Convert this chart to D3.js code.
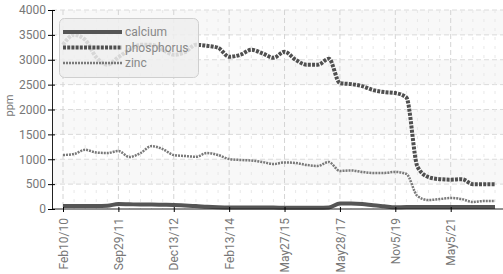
<!DOCTYPE html>
<html>
<head>
<meta charset="utf-8">
<script src="https://cdn.jsdelivr.net/npm/d3@7"></script>
<style>
  body { margin: 0; background: #fff; }
  text { font-family: Roboto, "Liberation Sans", sans-serif; }
</style>
</head>
<body>
<script>
// samples along x (categorical, irregular dates), labelled every 5th
var tickLabels = ["Feb10/10", "Sep29/11", "Dec13/12", "Feb13/14", "May27/15", "May28/17", "Nov5/19", "May5/21"];
var labelEvery = 5;

var calcium = [60, 60, 60, 60, 65, 100, 95, 90, 90, 85, 80, 70, 60, 45, 35, 30, 30, 30, 30, 30,
               25, 25, 25, 25, 30, 110, 110, 100, 75, 55, 35, 40, 40, 40, 40, 40, 40, 40, 40, 40];
var phosphorus = [3300, 3500, 3400, 3050, 2900, 3050, 3200, 3300, 3300, 3200, 3100, 3150, 3300, 3280, 3240, 3060, 3100, 3200, 3130, 3040,
                  3160, 3000, 2900, 2900, 3020, 2530, 2510, 2470, 2390, 2350, 2330, 2240, 850, 640, 600, 590, 600, 500, 500, 500];
var zinc = [1085, 1105, 1190, 1135, 1125, 1165, 1045, 1125, 1265, 1205, 1085, 1065, 1050, 1125, 1085, 1005, 985, 975, 945, 905,
            935, 925, 885, 865, 945, 765, 775, 745, 725, 725, 745, 705, 260, 180, 200, 220, 200, 140, 160, 160];

var seriesNames = ["calcium", "phosphorus", "zinc"];
var series = [calcium, phosphorus, zinc];
var styles = {
    calcium:    {color: "#555", width: 4,   dash: null},
    phosphorus: {color: "#505050", width: 4, dash: "3,1.2"},
    zinc:       {color: "#7a7a7a", width: 2.5, dash: "2,1"}
};

var width = 503, height = 274;
var margin = {top: 10, right: 0, bottom: 65, left: 52};

var svg = d3.select("body").append("svg")
    .attr("width", width)
    .attr("height", height);

var idx = d3.range(calcium.length);

var x = d3.scalePoint()
    .domain(idx)
    .range([63, 495]);

var y = d3.scaleLinear()
    .domain([0, 4000])
    .range([height - margin.bottom, margin.top]);

var yTicks = d3.range(0, 4001, 500);

// background bands
svg.append("g")
  .selectAll("rect").data(yTicks.slice(0, -1).filter((d, i) => i % 2 == 1)).enter().append("rect")
    .attr("x", margin.left)
    .attr("width", width - margin.left)
    .attr("y", d => y(d + 500))
    .attr("height", d => y(d) - y(d + 500))
    .attr("fill", "#f8f8f8");

// horizontal grid
svg.append("g")
  .selectAll("line").data(yTicks.slice(1)).enter().append("line")
    .attr("x1", margin.left).attr("x2", width)
    .attr("y1", d => y(d)).attr("y2", d => y(d))
    .attr("stroke", "#dadada")
    .attr("stroke-dasharray", "5,3");

// vertical grid, minor at every sample, major at labels
svg.append("g")
  .selectAll("line").data(idx).enter().append("line")
    .attr("x1", d => x(d)).attr("x2", d => x(d))
    .attr("y1", y(4000)).attr("y2", y(0))
    .attr("stroke", d => d % labelEvery == 0 ? "#d4d4d4" : "#e8e8e8")
    .attr("stroke-dasharray", d => d % labelEvery == 0 ? "5,3" : "3,6");

// lines
var line = d3.line()
    .x((d, i) => x(i))
    .y(d => y(d))
    .curve(d3.curveMonotoneX);

svg.append("g")
  .selectAll("path").data(seriesNames).enter().append("path")
    .attr("d", (d, i) => line(series[i]))
    .attr("fill", "none")
    .attr("stroke", d => styles[d].color)
    .attr("stroke-width", d => styles[d].width)
    .attr("stroke-dasharray", d => styles[d].dash);

// axes
var yAxis = g => g
    .attr("transform", `translate(${margin.left},0)`)
    .call(d3.axisLeft(y).tickValues(yTicks).tickFormat(d3.format("d")).tickSize(4).tickSizeOuter(0))
    .call(g => g.selectAll(".tick line").attr("x2", 3).attr("x1", -4))
    .call(g => g.selectAll(".tick text").attr("fill", "#777").attr("font-size", 12).attr("x", -6))
    .call(g => g.select(".domain").attr("stroke", "#222"));

var xAxis = g => g
    .attr("transform", `translate(0,${y(0)})`)
    .call(d3.axisBottom(x)
        .tickValues(idx.filter(i => i % labelEvery == 0))
        .tickFormat(i => tickLabels[i / labelEvery])
        .tickSize(3)
        .tickSizeOuter(0))
    .call(g => g.select(".domain").attr("d", `M${margin.left},0H${width}`).attr("stroke", "#222"))
    .call(g => g.selectAll(".tick line").attr("y1", -2))
    .call(g => g.selectAll(".tick text")
        .attr("fill", "#777")
        .attr("font-size", 12)
        .attr("transform", "rotate(-90)")
        .attr("text-anchor", "end")
        .attr("x", -9)
        .attr("y", 0)
        .attr("dy", "0.35em"));

svg.append("g").call(xAxis);
svg.append("g").call(yAxis);

// y label
svg.append("text")
    .attr("transform", `translate(13,${(y(0) + y(4000)) / 2 - 4}) rotate(-90)`)
    .attr("text-anchor", "middle")
    .attr("fill", "#777")
    .attr("font-size", 11)
    .text("ppm");

// legend
var legend = svg.append("g");
legend.append("rect")
    .attr("x", 59.5).attr("y", 18.5)
    .attr("width", 139).attr("height", 59)
    .attr("rx", 5)
    .attr("fill", "#eeeeee")
    .attr("fill-opacity", 0.85)
    .attr("stroke", "#cfcfcf");

var items = legend.selectAll("g.item").data(seriesNames).enter().append("g")
    .attr("transform", (d, i) => `translate(63,${32 + i * 15.5})`);

items.append("line")
    .attr("x1", 0).attr("x2", 59)
    .attr("stroke", d => styles[d].color)
    .attr("stroke-width", d => styles[d].width)
    .attr("stroke-dasharray", d => styles[d].dash);

items.append("text")
    .attr("x", 62)
    .attr("dy", "0.35em")
    .attr("fill", "#888")
    .attr("font-size", 12)
    .text(d => d);
</script>
</body>
</html>
